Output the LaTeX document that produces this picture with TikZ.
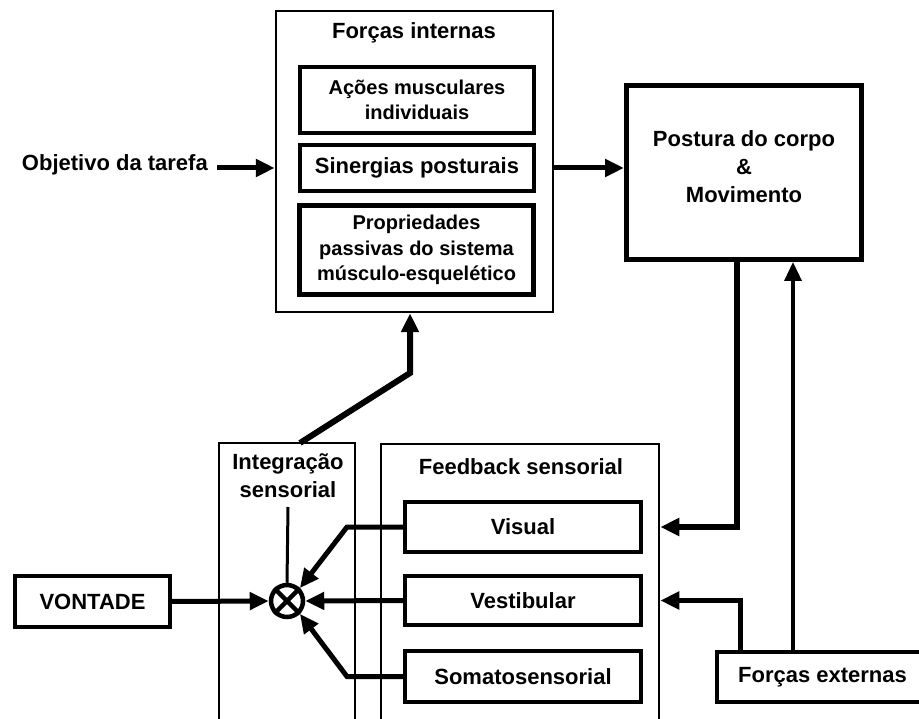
\documentclass[tikz,border=0pt]{standalone}
\usepackage{fontspec}
\setmainfont{Liberation Sans}
\usetikzlibrary{arrows.meta}
\begin{document}
\begin{tikzpicture}[x=1pt,y=-1pt,
  every node/.style={font=\bfseries\fontsize{22}{28}\selectfont, inner sep=0pt, align=center},
  box/.style={draw, rectangle, line width=#1},
  box/.default=4pt,
  smalltxt/.style={font=\bfseries\fontsize{20}{25.5}\selectfont},
  arr/.style={line width=#1, -{Triangle[length=19pt,width=17pt]}},
  arr/.default=5pt,
  conn/.style={line width=#1},
  conn/.default=5pt
]
\useasboundingbox (0,0) rectangle (919,719);
\clip (0,0) rectangle (919,719);
\fill[white] (0,0) rectangle (919,719);

% Forcas internas
\node[box=2.5pt, minimum width=277pt, minimum height=301pt] (fi) at (414.5,161.5) {};
\node (fitxt) at (414,33) {Forças internas};
\node[box=4pt, smalltxt, minimum width=234pt, minimum height=66pt] (acoes) at (417,100) {Ações musculares\\individuais};
\node[box=4pt, minimum width=234pt, minimum height=46pt] (siner) at (417,168) {Sinergias posturais};
\node[box=5pt, smalltxt, minimum width=234pt, minimum height=89pt] (prop) at (416.5,250) {Propriedades\\passivas do sistema\\músculo-esquelético};

% Objetivo
\node[anchor=east] (obj) at (208,165) {Objetivo da tarefa};

% Postura
\node[box=5pt, minimum width=235pt, minimum height=174pt, text depth=12pt] (post) at (744,172.5) {Postura do corpo\\\&\\Movimento};

% Integracao sensorial
\node[box=2.5pt, minimum width=136pt, minimum height=320pt] (integ) at (287,603) {};
\node (integtxt) at (288,476) {Integração\\sensorial};

% Feedback sensorial
\node[box=2.5pt, minimum width=278pt, minimum height=320pt] (fb) at (520,604) {};
\node (fbtxt) at (521,467) {Feedback sensorial};
\node[box=4pt, minimum width=236pt, minimum height=50pt] (visual) at (523,527) {Visual};
\node[box=4pt, minimum width=236pt, minimum height=49pt] (vest) at (523,600.5) {Vestibular};
\node[box=4pt, minimum width=236pt, minimum height=51pt] (soma) at (523,676.5) {Somatosensorial};

% Vontade
\node[box=4pt, minimum width=155pt, minimum height=51pt] (vont) at (92.5,601.5) {VONTADE};

% Forcas externas
\node[box=4pt, minimum width=211pt, minimum height=50pt] (ext) at (822.5,677) {Forças externas};

% Comparator
\node[draw, circle, line width=4.5pt, minimum size=32pt] (circ) at (287,601) {};
\draw[line width=4.5pt] (circ.north east) -- (circ.south west);
\draw[line width=4.5pt] (circ.north west) -- (circ.south east);

% Connectors
\draw[arr] ([xshift=9pt]obj.east |- siner.west) -- (fi.west |- siner.west);
\draw[arr] (fi.east |- siner.east) -- (post.west |- siner.east);

\coordinate (pdown) at (737,262);
\draw[arr=6pt] (pdown |- post.south) |- (fb.east |- visual.east);
\coordinate (pup) at (793,262);
\draw[arr=3.5pt] (pup |- ext.north) -- (pup |- post.south);
\coordinate (eup) at (740,600);
\draw[arr=5pt] (eup |- ext.north) |- (fb.east |- vest.east);

\draw[arr] (vont.east) -- (circ.west);
\draw[arr] (vest.west) -- (circ.east);
\draw[arr] (visual.west) -- ++(-56,0) -- (circ.north east);
\draw[arr] (soma.west) -- ++(-56,0) -- (circ.south east);
\draw[conn=3pt] (288,507) -- (circ.north);

\coordinate (bend) at (410,373);
\coordinate (istart) at (300,443);
\draw[arr=6pt] (istart) -- (bend) -- (bend |- fi.south);
\end{tikzpicture}
\end{document}
